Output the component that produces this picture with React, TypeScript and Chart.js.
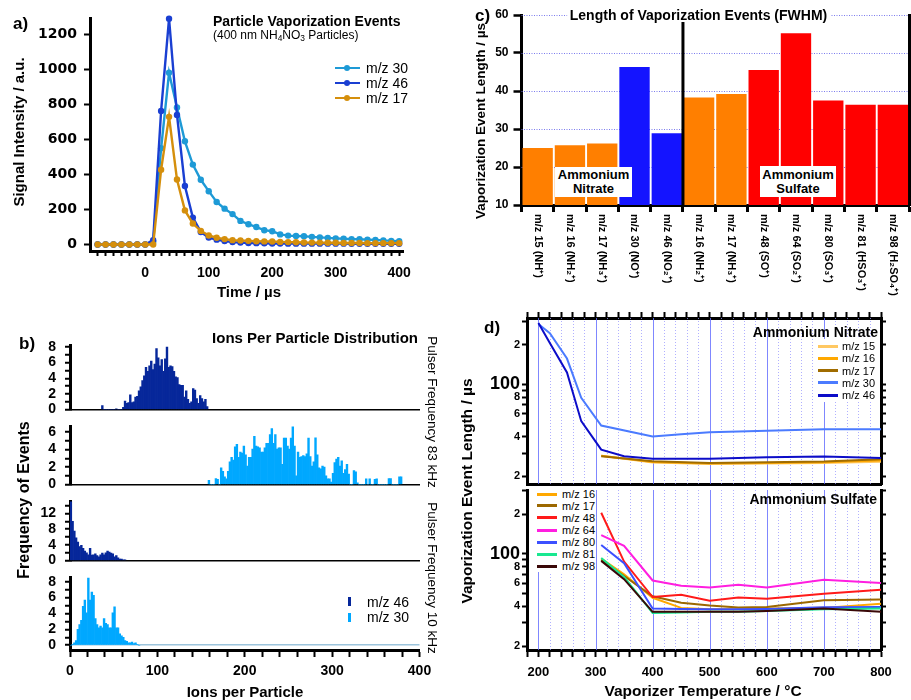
import React, { useEffect, useRef } from "react";
import { Chart, registerables } from "chart.js";

Chart.register(...registerables);

const FONT = '"Liberation Sans", Arial, Helvetica, sans-serif';
const WIDE = '"DejaVu Sans", "Liberation Sans", sans-serif';
Chart.defaults.font.family = FONT;
Chart.defaults.color = "#000";

// ---------------- panel a : particle vaporization events ----------------
const timeUs = [-75, -62.5, -50, -37.5, -25, -12.5, 0, 12.5, 25, 37.5, 50, 62.5, 75, 87.5, 100, 112.5, 125, 137.5, 150, 162.5, 175, 187.5, 200, 212.5, 225, 237.5, 250, 262.5, 275, 287.5, 300, 312.5, 325, 337.5, 350, 362.5, 375, 387.5, 400];
const signalMz30 = [0, 0, 0, 0, 0, 0, 0, 15, 550, 982, 783, 590, 457, 370, 305, 243, 205, 174, 135, 116, 100, 82, 76, 58, 51, 49, 47, 44, 41, 38, 35, 33, 31, 30, 28, 26, 24, 21, 19];
const signalMz46 = [0, 0, 0, 0, 0, 0, 0, 25, 764, 1291, 741, 335, 154, 72, 40, 28, 20, 14, 11, 9, 8, 7, 6, 6, 5, 5, 5, 5, 5, 5, 5, 5, 4, 4, 4, 4, 4, 4, 4];
const signalMz17 = [0, 0, 0, 0, 0, 0, 0, 0, 428, 730, 372, 195, 120, 78, 52, 39, 31, 25, 23, 21, 19, 18, 17, 15, 14, 13, 12, 11, 11, 10, 10, 9, 9, 9, 8, 8, 8, 8, 8];
const aNames = ["m/z 30", "m/z 46", "m/z 17"];
const aColors = ["#1e9ad6", "#1a3fd2", "#d58f0c"];

// ---------------- panel b : ions per particle histograms ----------------
const binWidth = 2;
const b1Start = 37; // m/z 46, 83 kHz
const b1Counts = [0.5, 0, 0, 0, 0, 0, 0, 0, 0.1, 0, 0, 0, 0.3, 1.1, 0.8, 0.9, 1.9, 0.9, 1.0, 1.6, 1.7, 2.4, 2.9, 3.7, 4.3, 5.4, 4.9, 5.6, 6.2, 5.1, 5.8, 7.8, 6.6, 5.6, 6.4, 4.9, 6.5, 8.0, 5.4, 5.6, 5.5, 4.9, 4.2, 4.1, 3.2, 3.1, 3.1, 1.6, 2.4, 1.3, 0.8, 1.0, 2.7, 2.5, 1.4, 0.8, 1.8, 1.4, 1.0, 1.3, 0.4];
const b2Start = 159; // m/z 30, 83 kHz
const b2Counts = [0.5, 0, 0, 0, 0.7, 0.6, 0, 1.9, 1.5, 0.9, 0.65, 1.5, 2.6, 3.1, 2.8, 4.3, 4.6, 3.1, 3.7, 3.6, 4.4, 3.4, 2.1, 3.1, 3.1, 4.05, 5.5, 4.4, 4.3, 4.2, 3.7, 3.7, 4.2, 4.7, 4.7, 5.7, 6.4, 4.7, 5.7, 4.05, 4.2, 4.2, 2.3, 5.3, 5.3, 4.4, 4.05, 5.3, 6.7, 4.4, 1.0, 3.7, 3.1, 3.2, 3.3, 3.2, 3.5, 5.3, 3.2, 2.1, 2.6, 5.35, 3.4, 1.9, 1.8, 2.1, 2.0, 1.0, 0.65, 0.65, 0.3, 1.3, 2.5, 2.9, 3.1, 2.1, 2.7, 1.3, 1.7, 2.3, 1.2, 0, 0, 1.6, 1.45, 0.2, 0, 0, 0, 0, 0.65, 0, 0.65, 0, 0, 0.6, 0.65, 0, 0, 0, 0, 0, 0, 0.7, 0.7, 0, 0, 0, 0, 0.9, 0.9];
const b3Start = 1; // m/z 46, 10 kHz
const b3Counts = [16, 10.0, 7.5, 5.8, 4.7, 3.6, 3.9, 3.1, 2.4, 2.0, 1.5, 3.1, 1.4, 1.5, 1.7, 1.3, 0.95, 1.5, 1.9, 1.5, 2.0, 2.4, 2.2, 1.9, 1.7, 0.95, 1.3, 0.7, 0.4, 0.4, 0.2, 0.15];
const b4Start = 1; // m/z 30, 10 kHz
const b4Counts = [0, 0.1, 0.3, 0.6, 2.0, 2.6, 3.15, 4.9, 5.7, 4.1, 8.5, 5.7, 6.7, 6.3, 3.35, 2.6, 2.2, 2.4, 2.2, 3.35, 2.75, 2.6, 2.2, 2.2, 4.1, 4.85, 2.2, 2.2, 1.45, 1.2, 1.0, 0.6, 0.5, 0.3, 0.3, 0.4, 0.2, 0.3, 0.1, 0];
const bNames = ["m/z 46", "m/z 30"];
const bColors = ["#06279a", "#00a8ff"];

// ---------------- panel c : FWHM bar chart ----------------
const cLabels = ["m/z 15 (NH⁺)", "m/z 16 (NH₂⁺)", "m/z 17 (NH₃⁺)", "m/z 30 (NO⁺)", "m/z 46 (NO₂⁺)", "m/z 16 (NH₂⁺)", "m/z 17 (NH₃⁺)", "m/z 48 (SO⁺)", "m/z 64 (SO₂⁺)", "m/z 80 (SO₃⁺)", "m/z 81 (HSO₃⁺)", "m/z 98 (H₂SO₄⁺)"];
const cValues = [25.0, 25.7, 26.2, 46.3, 28.9, 38.3, 39.2, 45.5, 55.2, 37.5, 36.4, 36.4];
const cColors = ["#ff7f00", "#ff7f00", "#ff7f00", "#1414ff", "#1414ff", "#ff7f00", "#ff7f00", "#ff0000", "#ff0000", "#ff0000", "#ff0000", "#ff0000"];
const cNitrateCount = 5;
const cSplitTop = 58.2;

// ---------------- panel d : vaporizer temperature ----------------
const nitTempsMz30 = [200, 220, 250, 275, 310, 400, 450, 500, 600, 700, 800];
const nitMz30 = [287, 245, 157, 79, 48.6, 40.1, 41.8, 43.2, 44.5, 45.6, 45.6];
const nitTempsMz46 = [200, 220, 250, 275, 310, 350, 400, 500, 600, 700, 800];
const nitMz46 = [292, 206, 123, 52.5, 31.9, 28.4, 27.2, 27.2, 27.9, 28.3, 27.6];
const nitTempsNH = [310, 400, 500, 600, 700, 800];
const nitMz15 = [28.7, 25.5, 24.8, 25.0, 25.3, 25.8];
const nitMz16 = [28.7, 25.7, 25.0, 25.3, 25.6, 26.4];
const nitMz17 = [28.4, 26.0, 25.3, 25.6, 25.9, 27.0];
const sulTemps = [310, 350, 400, 450, 500, 550, 600, 700, 800];
const sulMz16 = [92, 70, 46.5, 39.0, 38.1, 38.0, 38.5, 39.0, 42.0];
const sulMz17 = [90, 68, 47.7, 42.6, 40.6, 39.3, 39.6, 44.5, 45.1];
const sulMz48 = [205, 87.5, 47.1, 49.1, 44.2, 46.8, 45.8, 50.0, 53.5];
const sulMz64 = [139, 115, 62.9, 57.4, 55.7, 58.4, 55.7, 63.7, 60.1];
const sulMz80 = [117, 85, 38.5, 38.3, 38.0, 38.0, 38.2, 39.4, 39.6];
const sulMz81 = [93, 67, 35.7, 36.0, 36.5, 36.5, 37.0, 38.0, 38.5];
const sulMz98 = [88.6, 64.4, 36.4, 36.5, 36.5, 36.5, 37.0, 38.5, 36.5];
const nitNames = ["m/z 15", "m/z 16", "m/z 17", "m/z 30", "m/z 46"];
const nitColors = ["#ffc862", "#ffa800", "#a06c00", "#4b7bff", "#0c0cc8"];
const sulNames = ["m/z 16", "m/z 17", "m/z 48", "m/z 64", "m/z 80", "m/z 81", "m/z 98"];
const sulColors = ["#ffa800", "#9c6800", "#ff1a1a", "#ff1ee0", "#3c50ff", "#18e890", "#3a0808"];
const dTickValues = [20, 30, 40, 50, 60, 70, 80, 90, 100, 200, 300];
const dTickLabels = ["2", "", "4", "", "6", "", "8", "", "100", "2", ""];

// ---------------- layout helpers ----------------
type Frame = { cl: number; ct: number; cw: number; ch: number; L: number; T: number; R: number; B: number };
function frame(L: number, T: number, R: number, B: number, ml: number, mt: number, mr: number, mb: number): Frame {
  const cl = Math.floor(L - ml), ct = Math.floor(T - mt), cr = Math.ceil(R + mr), cb = Math.ceil(B + mb);
  return { cl, ct, cw: cr - cl, ch: cb - ct, L, T, R, B };
}
const leftW = (f: Frame) => f.L - f.cl;
const topH = (f: Frame) => f.T - f.ct;
const rightW = (f: Frame) => f.cl + f.cw - f.R;
const bottomH = (f: Frame) => f.ct + f.ch - f.B;
const fixW = (w: number) => (s: any) => { s.width = w; };
const fixH = (h: number) => (s: any) => { s.height = h; };
const bold = (size: number, family: string = FONT) => ({ family, size, weight: "bold" as const });
const baseOpts = () => ({
  animation: false as const,
  responsive: false,
  maintainAspectRatio: false,
  events: [] as any[],
  plugins: { legend: { display: false }, tooltip: { enabled: false } },
});
const blackBorder = { display: true, color: "#000", width: 3 };
const tickGrid = (len: number, w = 2) => ({ display: true, drawOnChartArea: false, tickLength: len, tickWidth: w, tickColor: "#000" });

const FA = frame(90, 18, 403, 251, 90, 18, 27, 49);
const FB1 = frame(70, 340, 419.5, 414.3, 70, 12, 20.5, 12);
const FB2 = frame(70, 421.7, 419.5, 490, 70, 12, 20.5, 12);
const FB3 = frame(70, 496.7, 419.5, 566, 70, 12, 20.5, 12);
const FB4 = frame(70, 572.7, 419.5, 650, 70, 12, 20.5, 50);
const FC = frame(521.5, 15, 909, 205, 66.5, 15, 2, 95);
const FD1 = frame(527, 318, 881, 484, 72, 11, 30, 12);
const FD2 = frame(527, 490, 881, 650, 72, 12, 30, 50);

// ---------------- chart configs ----------------
function configA() {
  const series = [signalMz30, signalMz46, signalMz17];
  return {
    type: "line",
    data: {
      datasets: series.map((vals, i) => ({
        label: aNames[i],
        data: timeUs.map((t, j) => ({ x: t, y: vals[j] })),
        borderColor: aColors[i],
        backgroundColor: aColors[i],
        pointBackgroundColor: aColors[i],
        pointBorderColor: aColors[i],
        pointBorderWidth: 0,
        pointRadius: 3.2,
        borderWidth: 2.4,
        order: -i,
        clip: false,
      })),
    },
    options: {
      ...baseOpts(),
      layout: { padding: { left: 0, top: topH(FA), right: rightW(FA), bottom: 0 } },
      scales: {
        x: {
          type: "linear", min: -87, max: 406, afterFit: fixH(bottomH(FA)),
          border: blackBorder, grid: tickGrid(5),
          ticks: { stepSize: 12.5, autoSkip: false, maxRotation: 0, includeBounds: false, padding: 9, font: bold(14), callback: (v: number) => (v % 100 === 0 ? String(v) : "") },
        },
        y: {
          type: "linear", min: -37, max: 1295, afterFit: fixW(leftW(FA)),
          border: blackBorder, grid: tickGrid(6),
          ticks: { stepSize: 200, includeBounds: false, padding: 7, font: bold(14, WIDE), callback: (v: number) => String(v) },
        },
      },
    },
  };
}

function configHist(f: Frame, start: number, counts: number[], color: string, yMin: number, yMax: number, step: number, labelEvery: number, showX: boolean, zeroLine: boolean) {
  return {
    type: "bar",
    data: {
      datasets: [{
        data: counts.map((v, i) => ({ x: start + i * binWidth, y: v })),
        backgroundColor: color,
        borderWidth: 0,
        barPercentage: 1,
        categoryPercentage: 1,
      }],
    },
    options: {
      ...baseOpts(),
      layout: { padding: { left: 0, top: topH(f), right: rightW(f), bottom: 0 } },
      scales: {
        x: {
          type: "linear", min: 0, max: 400, offset: false, afterFit: fixH(bottomH(f)),
          border: { display: true, color: "#000", width: showX ? 3 : 1.5 },
          grid: showX ? { ...tickGrid(7), offset: false } : { display: false, offset: false },
          ticks: { display: showX, stepSize: 20, autoSkip: false, maxRotation: 0, padding: 6, font: bold(14), callback: (v: number) => (v % 100 === 0 ? String(v) : "") },
        },
        y: {
          type: "linear", min: yMin, max: yMax, afterFit: fixW(leftW(f)),
          border: blackBorder,
          grid: {
            display: true, drawOnChartArea: zeroLine, tickLength: 5, tickWidth: 2, tickColor: "#000", lineWidth: 1.5,
            color: (c: any) => (zeroLine && c.tick && c.tick.value === 0 ? "#9cc4dc" : "rgba(0,0,0,0)"),
          },
          ticks: { stepSize: step, includeBounds: false, autoSkip: false, padding: 9, font: bold(14), callback: (v: number) => (Math.round(v) % labelEvery === 0 ? String(v) : "") },
        },
      },
    },
  };
}

const cPlugin = {
  id: "cExtras",
  beforeDatasetsDraw(chart: any) {
    const y = chart.scales.y;
    const { left, right } = chart.chartArea;
    const ctx = chart.ctx;
    ctx.save();
    ctx.strokeStyle = "rgba(110,110,235,0.9)";
    ctx.lineWidth = 1;
    ctx.setLineDash([1, 1.5]);
    y.ticks.forEach((t: any) => {
      if (t.value <= y.min) return;
      const py = Math.round(y.getPixelForValue(t.value)) + 0.5;
      ctx.beginPath();
      ctx.moveTo(left, py);
      ctx.lineTo(right, py);
      ctx.stroke();
    });
    ctx.restore();
  },
  afterDatasetsDraw(chart: any) {
    const x = chart.scales.x, y = chart.scales.y;
    const ctx = chart.ctx;
    const px = (x.getPixelForValue(cNitrateCount - 1) + x.getPixelForValue(cNitrateCount)) / 2;
    ctx.save();
    ctx.strokeStyle = "#000";
    ctx.lineWidth = 3;
    ctx.beginPath();
    ctx.moveTo(px, y.getPixelForValue(cSplitTop));
    ctx.lineTo(px, chart.chartArea.bottom);
    ctx.stroke();
    ctx.restore();
  },
  afterDraw(chart: any) {
    const x = chart.scales.x;
    const ctx = chart.ctx;
    ctx.save();
    ctx.font = "bold 11px " + FONT;
    ctx.fillStyle = "#000";
    ctx.textAlign = "left";
    ctx.textBaseline = "middle";
    cLabels.forEach((lab, i) => {
      ctx.save();
      ctx.translate(x.getPixelForValue(i), chart.chartArea.bottom + 9);
      ctx.rotate(Math.PI / 2);
      ctx.fillText(lab, 0, 0);
      ctx.restore();
    });
    ctx.restore();
  },
};

function configC() {
  return {
    type: "bar",
    data: {
      labels: cLabels,
      datasets: [{ data: cValues, backgroundColor: cColors, borderWidth: 0, barPercentage: 0.94, categoryPercentage: 1 }],
    },
    options: {
      ...baseOpts(),
      layout: { padding: { left: 0, top: topH(FC), right: 0, bottom: 0 } },
      scales: {
        x: {
          type: "category", afterFit: fixH(bottomH(FC)),
          border: blackBorder, grid: { ...tickGrid(7, 3), offset: true },
          ticks: { display: false },
        },
        y: {
          min: 10, max: 60, afterFit: fixW(leftW(FC)),
          border: blackBorder, grid: tickGrid(8, 2.5),
          ticks: { stepSize: 10, padding: 5, font: bold(12) },
        },
        y2: {
          position: "right", min: 10, max: 60, afterFit: fixW(rightW(FC)),
          border: blackBorder, grid: { display: false }, ticks: { display: false },
        },
      },
    },
    plugins: [cPlugin],
  };
}

const vGridPlugin = {
  id: "vgrid",
  beforeDatasetsDraw(chart: any) {
    const x = chart.scales.x;
    const { top, bottom, left, right } = chart.chartArea;
    const ctx = chart.ctx;
    ctx.save();
    ctx.lineWidth = 1;
    x.ticks.forEach((t: any) => {
      const px = x.getPixelForValue(t.value);
      if (px <= left + 2 || px >= right - 2) return;
      const major = t.value % 100 === 0;
      ctx.strokeStyle = major ? "rgba(95,105,255,0.8)" : "rgba(150,150,255,0.75)";
      ctx.setLineDash(major ? [] : [1, 2]);
      const xx = Math.round(px) + 0.5;
      ctx.beginPath();
      ctx.moveTo(xx, top);
      ctx.lineTo(xx, bottom);
      ctx.stroke();
    });
    ctx.restore();
  },
};

function logAxis(position: string, width: number, labels: boolean, yMin: number, yMax: number) {
  return {
    type: "logarithmic", position, min: yMin, max: yMax, afterFit: fixW(width),
    afterBuildTicks: (s: any) => { s.ticks = dTickValues.map((v) => ({ value: v })); },
    border: blackBorder, grid: tickGrid(5, 2),
    ticks: {
      display: labels, autoSkip: false, padding: 2,
      font: (c: any) => (c.tick && c.tick.value === 100 ? bold(18) : bold(11)),
      callback: (v: number) => { const k = dTickValues.indexOf(v); return k >= 0 ? dTickLabels[k] : ""; },
    },
  };
}

function lineSet(label: string, xs: number[], ys: number[], color: string, i: number) {
  return { label, data: xs.map((t, j) => ({ x: t, y: ys[j] })), borderColor: color, backgroundColor: color, borderWidth: 2, pointRadius: 0, tension: 0, order: -i };
}

function configD(f: Frame, datasets: any[], yMin: number, yMax: number, isTop: boolean) {
  const scales: any = {
    x: {
      type: "linear", min: 180, max: 800, afterFit: fixH(bottomH(f)),
      border: blackBorder, grid: isTop ? { display: false } : tickGrid(7),
      ticks: { display: !isTop, stepSize: 20, autoSkip: false, maxRotation: 0, padding: 8, font: bold(13), callback: (v: number) => (v % 100 === 0 ? String(v) : "") },
    },
    y: logAxis("left", leftW(f), true, yMin, yMax),
    y2: logAxis("right", rightW(f), false, yMin, yMax),
  };
  if (isTop) {
    scales.x2 = {
      type: "linear", position: "top", min: 180, max: 800, afterFit: fixH(topH(f)),
      border: blackBorder, grid: tickGrid(6),
      ticks: { display: false, stepSize: 20, autoSkip: false },
    };
  }
  return {
    type: "line",
    data: { datasets },
    options: {
      ...baseOpts(),
      layout: { padding: { left: 0, top: isTop ? 0 : topH(f), right: 0, bottom: 0 } },
      scales,
    },
    plugins: [vGridPlugin],
  };
}

function configD1() {
  const ds = [
    lineSet(nitNames[0], nitTempsNH, nitMz15, nitColors[0], 0),
    lineSet(nitNames[1], nitTempsNH, nitMz16, nitColors[1], 1),
    lineSet(nitNames[2], nitTempsNH, nitMz17, nitColors[2], 2),
    lineSet(nitNames[3], nitTempsMz30, nitMz30, nitColors[3], 3),
    lineSet(nitNames[4], nitTempsMz46, nitMz46, nitColors[4], 4),
  ];
  return configD(FD1, ds, 17.5, 319, true);
}

function configD2() {
  const series = [sulMz16, sulMz17, sulMz48, sulMz64, sulMz80, sulMz81, sulMz98];
  const ds = series.map((s, i) => lineSet(sulNames[i], sulTemps, s, sulColors[i], i));
  return configD(FD2, ds, 18.7, 305, false);
}

// ---------------- components ----------------
function ChartBox({ f, make }: { f: Frame; make: () => any }) {
  const ref = useRef<HTMLCanvasElement>(null);
  useEffect(() => {
    const chart = new Chart(ref.current as HTMLCanvasElement, make());
    return () => chart.destroy();
  }, []);
  return <canvas ref={ref} width={f.cw} height={f.ch} style={{ position: "absolute", left: f.cl, top: f.ct, width: f.cw, height: f.ch }} />;
}

type TP = { x: number; y: number; size: number; bold?: boolean; rot?: number; anchor?: "c" | "l" | "r"; bg?: string; children: React.ReactNode };
function Txt({ x, y, size, bold: b, rot = 0, anchor = "c", bg, children }: TP) {
  const tx = anchor === "c" ? "-50%" : anchor === "l" ? "0%" : "-100%";
  return (
    <div style={{ position: "absolute", left: x, top: y, transform: `translate(${tx},-50%) rotate(${rot}deg)`, fontFamily: FONT, fontSize: size, fontWeight: b ? 700 : 400, lineHeight: 1, whiteSpace: "nowrap", background: bg, padding: bg ? "0 3px" : 0, color: "#000" }}>
      {children}
    </div>
  );
}

const abs = (s: React.CSSProperties): React.CSSProperties => ({ position: "absolute", ...s });

export default function App() {
  const aLegendY = [67.7, 82.7, 98.3];
  const bLegendY = [601.7, 617.3];
  const d1LegendY = [346, 358.3, 370.7, 382.7, 395];
  const d2LegendY = [494, 505.7, 517.7, 530, 542, 554, 566];
  const sub: React.CSSProperties = { fontSize: "0.7em", verticalAlign: "-0.25em" };
  return (
    <div style={{ position: "absolute", left: 0, top: 0, width: 911, height: 700, background: "#fff", overflow: "hidden", fontFamily: FONT }}>
      <ChartBox f={FA} make={configA} />
      <ChartBox f={FB1} make={() => configHist(FB1, b1Start, b1Counts, bColors[0], 0, 8.2, 1, 2, false, false)} />
      <ChartBox f={FB2} make={() => configHist(FB2, b2Start, b2Counts, bColors[1], 0, 6.64, 1, 2, false, false)} />
      <ChartBox f={FB3} make={() => configHist(FB3, b3Start, b3Counts, bColors[0], 0, 15.1, 2, 4, false, false)} />
      <ChartBox f={FB4} make={() => configHist(FB4, b4Start, b4Counts, bColors[1], -0.6, 8.55, 1, 2, true, true)} />
      <ChartBox f={FC} make={configC} />
      <ChartBox f={FD1} make={configD1} />
      <ChartBox f={FD2} make={configD2} />

      {/* panel a texts */}
      <Txt x={13} y={23} size={17} bold anchor="l">a)</Txt>
      <Txt x={17.5} y={132} size={15} bold rot={-90}>Signal Intensity / a.u.</Txt>
      <Txt x={249} y={291} size={15} bold>Time / µs</Txt>
      <Txt x={213} y={21} size={14} bold anchor="l">Particle Vaporization Events</Txt>
      <Txt x={213} y={36} size={12} anchor="l">(400 nm NH<span style={sub}>4</span>NO<span style={sub}>3</span> Particles)</Txt>
      {aNames.map((n, i) => (
        <React.Fragment key={n}>
          <div style={abs({ left: 335, top: aLegendY[i] - 1.2, width: 25, height: 2.4, background: aColors[i] })} />
          <div style={abs({ left: 343.8, top: aLegendY[i] - 3.2, width: 6.4, height: 6.4, borderRadius: "50%", background: aColors[i] })} />
          <Txt x={366} y={aLegendY[i]} size={14} anchor="l">{n}</Txt>
        </React.Fragment>
      ))}

      {/* panel b texts */}
      <Txt x={19} y={343} size={17} bold anchor="l">b)</Txt>
      <Txt x={418} y={337} size={15} bold anchor="r">Ions Per Particle Distribution</Txt>
      <Txt x={24} y={500} size={16} bold rot={-90}>Frequency of Events</Txt>
      <Txt x={432} y={412} size={13.5} rot={90}>Pulser Frequency 83 kHz</Txt>
      <Txt x={432} y={578} size={13.5} rot={90}>Pulser Frequency 10 kHz</Txt>
      <Txt x={245} y={691} size={15} bold>Ions per Particle</Txt>
      {bNames.map((n, i) => (
        <React.Fragment key={n}>
          <div style={abs({ left: 348, top: bLegendY[i] - 4.5, width: 2.5, height: 9, background: bColors[i] })} />
          <Txt x={367} y={bLegendY[i]} size={14} anchor="l">{n}</Txt>
        </React.Fragment>
      ))}

      {/* panel c texts */}
      <Txt x={475} y={15} size={17} bold anchor="l">c)</Txt>
      <Txt x={698.5} y={14.5} size={14} bold bg="#fff">Length of Vaporization Events (FWHM)</Txt>
      <Txt x={481} y={121} size={13.5} bold rot={-90}>Vaporization Event Length / µs</Txt>
      <div style={abs({ left: 555, top: 167, width: 77, height: 30, background: "#fff", display: "flex", alignItems: "center", justifyContent: "center", textAlign: "center", fontFamily: FONT, fontWeight: 700, fontSize: 13, lineHeight: "14px" })}>Ammonium<br />Nitrate</div>
      <div style={abs({ left: 760, top: 166, width: 76, height: 31, background: "#fff", display: "flex", alignItems: "center", justifyContent: "center", textAlign: "center", fontFamily: FONT, fontWeight: 700, fontSize: 13, lineHeight: "14px" })}>Ammonium<br />Sulfate</div>

      {/* panel d texts */}
      <Txt x={484} y={327} size={17} bold anchor="l">d)</Txt>
      <Txt x={878} y={332} size={14} bold anchor="r">Ammonium Nitrate</Txt>
      <Txt x={877} y={499} size={14} bold anchor="r">Ammonium Sulfate</Txt>
      <Txt x={467} y={491} size={15.5} bold rot={-90}>Vaporization Event Length / µs</Txt>
      <Txt x={703} y={691} size={15.5} bold>Vaporizer Temperature / °C</Txt>
      <div style={abs({ left: 813, top: 339, width: 66, height: 63, background: "#fff" })} />
      {nitNames.map((n, i) => (
        <React.Fragment key={"n" + i}>
          <div style={abs({ left: 818, top: d1LegendY[i] - 1.5, width: 20, height: 3, background: nitColors[i] })} />
          <Txt x={842} y={d1LegendY[i]} size={11} anchor="l">{n}</Txt>
        </React.Fragment>
      ))}
      <div style={abs({ left: 530, top: 487, width: 66, height: 85, background: "#fff" })} />
      {sulNames.map((n, i) => (
        <React.Fragment key={"s" + i}>
          <div style={abs({ left: 537, top: d2LegendY[i] - 1.5, width: 20, height: 3, background: sulColors[i] })} />
          <Txt x={562} y={d2LegendY[i]} size={11} anchor="l">{n}</Txt>
        </React.Fragment>
      ))}
    </div>
  );
}
